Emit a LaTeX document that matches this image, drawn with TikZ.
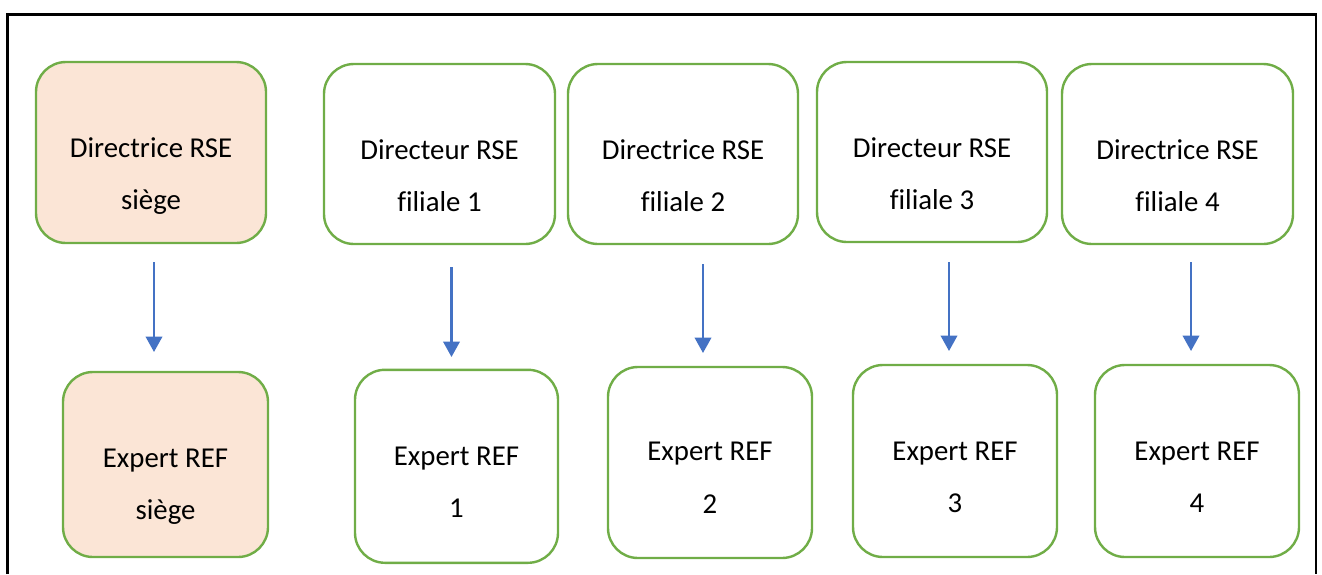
\documentclass[tikz,border=0pt]{standalone}
\usepackage{fontspec}
\setmainfont[Ligatures={NoCommon}]{Carlito}
\usetikzlibrary{arrows.meta}
\definecolor{boxgreen}{HTML}{70AD47}
\definecolor{peach}{HTML}{FBE5D6}
\definecolor{arrowblue}{HTML}{4472C4}
\newcommand{\boxlines}[3]{\rule{0pt}{#1pt}#2\\#3\rule[-8pt]{0pt}{8pt}}
\begin{document}
\begin{tikzpicture}[x=1pt,y=-1pt,
  orgbox/.style={draw=boxgreen, line width=2.4pt, rounded corners=30pt, fill=white,
    align=center, inner sep=0pt, font=\fontsize{28.8}{52.5}\selectfont, text=black},
  hqbox/.style={orgbox, fill=peach},
  flow/.style={draw=arrowblue, line width=2.4pt, -{Triangle[width=16.5pt,length=15.5pt]}}]
\useasboundingbox (0,0) rectangle (1322,574);
\coordinate (fbl) at (7.3,574);
\coordinate (ftl) at (7.3,14.7);
\coordinate (ftr) at (1316,14.7);
\coordinate (fbr) at (1316,574);
\draw[line width=2.6pt] (fbl) -- (ftl) -- (ftr) -- (fbr);

% top row
\node[hqbox, minimum width=230pt, minimum height=181pt] (b0) at (151,152.5) {\boxlines{69.5}{Directrice RSE}{siège}};
\node[orgbox, minimum width=231pt, minimum height=180pt] (b1) at (439.5,154) {\boxlines{70.5}{Directeur RSE}{filiale 1}};
\node[orgbox, minimum width=230pt, minimum height=180pt] (b2) at (683,154) {\boxlines{70.5}{Directrice RSE}{filiale 2}};
\node[orgbox, minimum width=230pt, minimum height=180pt] (b3) at (932,152) {\boxlines{70.5}{Directeur RSE}{filiale 3}};
\node[orgbox, minimum width=231pt, minimum height=180pt] (b4) at (1177.5,154) {\boxlines{70.5}{Directrice RSE}{filiale 4}};

% bottom row
\node[hqbox, minimum width=205pt, minimum height=185pt] (e0) at (165.5,464.5) {\boxlines{65.5}{Expert REF}{siège}};
\node[orgbox, minimum width=203pt, minimum height=193pt] (e1) at (456.5,466.3) {\boxlines{58.5}{Expert REF}{1}};
\node[orgbox, minimum width=204pt, minimum height=191pt] (e2) at (710,462.5) {\boxlines{56.5}{Expert REF}{2}};
\node[orgbox, minimum width=204pt, minimum height=192pt] (e3) at (955,461) {\boxlines{58.5}{Expert REF}{3}};
\node[orgbox, minimum width=204pt, minimum height=192pt] (e4) at (1197,461) {\boxlines{58.5}{Expert REF}{4}};

% arrows
\coordinate (a0s) at (154,262);   \coordinate (a0e) at (154,352);
\coordinate (a1s) at (451.5,267); \coordinate (a1e) at (451.5,357);
\coordinate (a2s) at (703,264);   \coordinate (a2e) at (703,353);
\coordinate (a3s) at (949,262);   \coordinate (a3e) at (949,351);
\coordinate (a4s) at (1191,262);  \coordinate (a4e) at (1191,351);
\draw[flow] (a0s) -- (a0e);
\draw[flow] (a1s) -- (a1e);
\draw[flow] (a2s) -- (a2e);
\draw[flow] (a3s) -- (a3e);
\draw[flow] (a4s) -- (a4e);
\end{tikzpicture}
\end{document}
